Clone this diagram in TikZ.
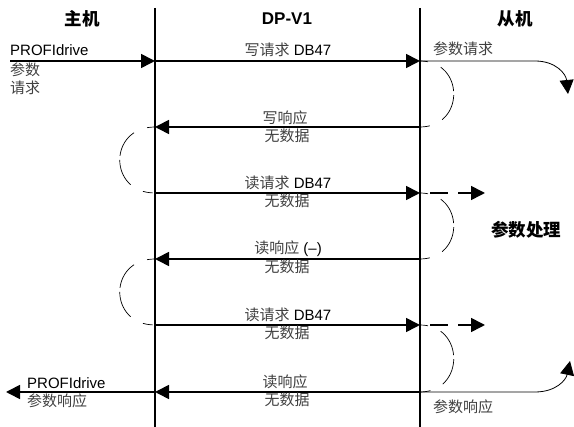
\documentclass[tikz,border=0pt]{standalone}
\usepackage{fontspec}
\setmainfont{Liberation Sans}
\newfontfamily\cjk{Noto Sans CJK SC}
\usetikzlibrary{positioning, arrows.meta}

\begin{document}
\begin{tikzpicture}[x=1pt,y=-1pt,
    lifeline/.style={line width=1.6pt},
    msg/.style={line width=1.6pt,-{Triangle[length=14pt,width=14pt]}},
    turnarrow/.style={line width=0.8pt,-{Triangle[length=14pt,width=14pt]}},
    fwd/.style={line width=1.6pt,dash pattern=on 18pt off 10pt,-{Triangle[length=14pt,width=14pt]}},
    waitarc/.style={line width=0.7pt,dash pattern=on 8pt off 14pt on 28pt off 4pt on 28pt off 14pt on 10pt},
    lbl/.style={inner sep=0pt,font={\fontsize{15}{17}\selectfont}},
    zh/.style={lbl,text=black!75,font={\fontsize{15}{17}\selectfont\cjk}},
    hdr/.style={inner sep=0pt,font={\fontsize{17.5}{19}\selectfont\bfseries\cjk}}]
        \useasboundingbox (0,0) rectangle (574,427);
        % lifelines
        \coordinate (ht) at (155,8);  \coordinate (hb) at (155,427);
        \coordinate (st) at (420,8);  \coordinate (sb) at (420,427);
        \draw[lifeline] (ht) -- (hb);
        \draw[lifeline] (st) -- (sb);
        \foreach \i/\y in {1/61,2/127,3/193,4/259,5/325,6/392} {
          \coordinate (h\i) at (155,\y);
          \coordinate (s\i) at (420,\y);
        }
        \node[hdr] (host) at (82,19) {主机};
        \node[inner sep=0pt,font={\fontsize{17}{19}\selectfont\bfseries}] (dp) at (287,19) {DP-V1};
        \node[hdr] (slave) at (515,19) {从机};
        \node[hdr] (proc) at (526,230) {参数处理};
        % host side
        \coordinate (pin) at (10,61);
        \coordinate (pout) at (6,392);
        \draw[msg] (pin) -- (h1);
        \draw[msg] (h6) -- (pout);
        \node[lbl,anchor=west] (pd1) at (10,50) {PROFIdrive};
        \node[zh,anchor=west] (par1) at (10,70) {参数};
        \node[zh,anchor=west] (req1) at (10,88) {请求};
        \node[lbl,anchor=west] (pd2) at (27,383) {PROFIdrive};
        \node[zh,anchor=west] (res1) at (27,401) {参数响应};
        % messages
        \draw[msg] (h1) -- (s1);
        \draw[msg] (s2) -- (h2);
        \draw[msg] (h3) -- (s3);
        \draw[msg] (s4) -- (h4);
        \draw[msg] (h5) -- (s5);
        \draw[msg] (s6) -- (h6);
        \node[lbl] (wreq) at (288,50) {{\cjk\color{black!75}写请求} DB47};
        \node[zh] (wres) at (285,118) {写响应};
        \node[zh] (nd1) at (287,136) {无数据};
        \node[lbl] (rreq1) at (288,183) {{\cjk\color{black!75}读请求} DB47};
        \node[zh] (nd2) at (287,201) {无数据};
        \node[lbl] (rres1) at (288,249) {{\cjk\color{black!75}读响应} (--)};
        \node[zh] (nd3) at (287,267) {无数据};
        \node[lbl] (rreq2) at (288,315) {{\cjk\color{black!75}读请求} DB47};
        \node[zh] (nd4) at (287,333) {无数据};
        \node[zh] (rres2) at (285,382) {读响应};
        \node[zh] (nd5) at (287,400) {无数据};
        % waiting arcs
        \draw[waitarc] (s1) .. controls +(45,0) and +(45,0) .. (s2);
        \draw[waitarc] (h2) .. controls +(-47,0) and +(-47,0) .. (h3);
        \draw[waitarc] (s3) .. controls +(45,0) and +(45,0) .. (s4);
        \draw[waitarc] (h4) .. controls +(-47,0) and +(-47,0) .. (h5);
        \draw[waitarc] (s5) .. controls +(45,0) and +(45,0) .. (s6);
        % slave side
        \coordinate (d3) at (430,193); \coordinate (e3) at (485,193);
        \coordinate (d5) at (430,325); \coordinate (e5) at (485,325);
        \draw[fwd] (d3) -- (e3);
        \draw[fwd] (d5) -- (e5);
        \coordinate (rq) at (568,94);
        \coordinate (rs) at (570,361);
        \draw[turnarrow] (s1) -- (535,61) .. controls (556,61) and (566,74) .. (rq);
        \draw[turnarrow] (s6) -- (535,392) .. controls (556,392) and (566,380) .. (rs);
        \node[zh,anchor=west] (preq) at (433,49) {参数请求};
        \node[zh,anchor=west] (pres) at (433,407) {参数响应};
     \end{tikzpicture}
\end{document}
